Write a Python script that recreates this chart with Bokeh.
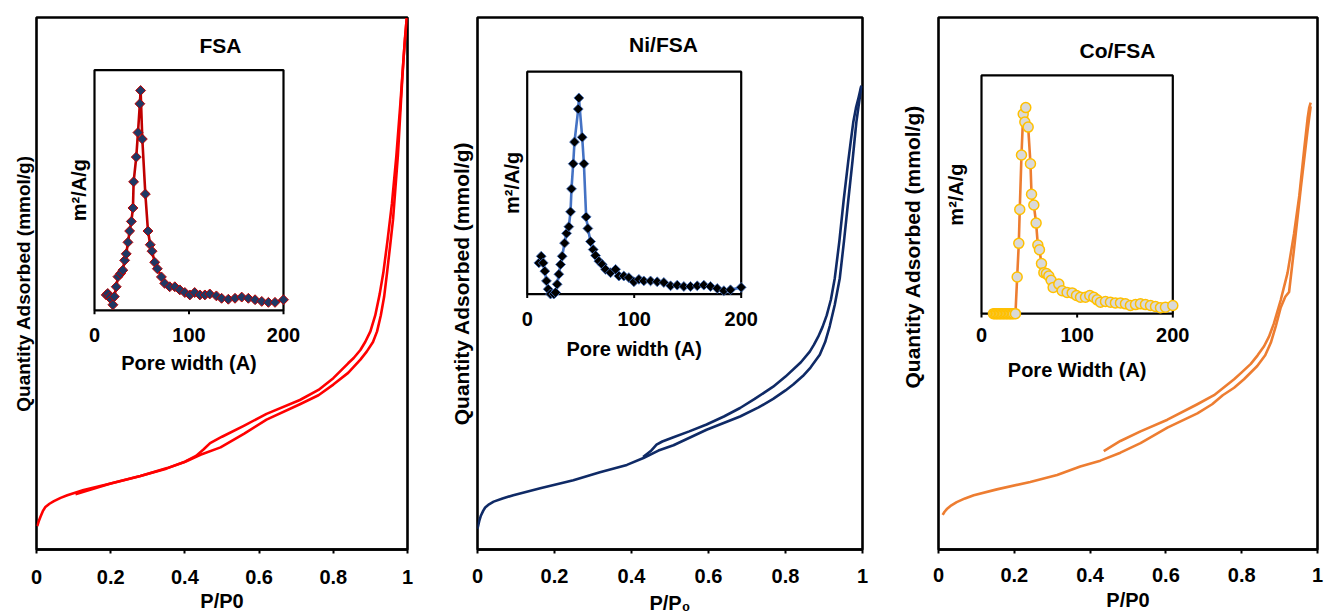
from math import pi

from bokeh.core.properties import value
from bokeh.embed import file_html
from bokeh.layouts import row
from bokeh.models import FixedTicker, Label, Range1d, Title
from bokeh.plotting import figure
from bokeh.resources import INLINE

# ---------------------------------------------------------------- data ----
# Relative pressure axis
p_ticks = [0, 0.2, 0.4, 0.6, 0.8, 1]
p_tick_labels = ["0", "0.2", "0.4", "0.6", "0.8", "1"]
# Pore width axis of the size-distribution insets
w_ticks = [0, 100, 200]
w_tick_labels = ["0", "100", "200"]

# FSA isotherm (quantity adsorbed, relative units)
fsa_ads_p = [0.002, 0.006, 0.011, 0.017, 0.024, 0.035, 0.047, 0.065, 0.083, 0.127, 0.2, 0.28,
             0.352, 0.401, 0.442, 0.496, 0.56, 0.62, 0.71, 0.76, 0.8, 0.84, 0.873, 0.89, 0.907,
             0.918, 0.928, 0.937, 0.945, 0.953, 0.961, 0.974, 0.986, 0.993, 0.998]
fsa_ads_q = [0.044, 0.053, 0.062, 0.072, 0.08, 0.086, 0.091, 0.097, 0.102, 0.112, 0.124, 0.138,
             0.153, 0.165, 0.178, 0.192, 0.218, 0.244, 0.273, 0.29, 0.31, 0.332, 0.357, 0.372,
             0.39, 0.41, 0.44, 0.475, 0.521, 0.57, 0.62, 0.74, 0.886, 0.96, 0.999]
fsa_des_p = [0.998, 0.99, 0.981, 0.97, 0.958, 0.946, 0.935, 0.925, 0.913, 0.9, 0.886, 0.873,
             0.855, 0.84, 0.8, 0.76, 0.71, 0.62, 0.56, 0.5, 0.468, 0.45, 0.43, 0.4, 0.35, 0.28,
             0.2, 0.105]
fsa_des_q = [0.999, 0.93, 0.84, 0.74, 0.65, 0.58, 0.521, 0.48, 0.44, 0.41, 0.39, 0.375, 0.36,
             0.35, 0.322, 0.3, 0.281, 0.255, 0.233, 0.212, 0.2, 0.188, 0.176, 0.165, 0.152,
             0.138, 0.124, 0.104]
# FSA pore size distribution (m2/A/g, relative units)
fsa_psd_w = [12.4, 14, 16, 18, 19.5, 21, 23, 24.8, 27.6, 30, 31.9, 33.6, 35.4, 37.2, 39, 40.7,
             41.4, 44.2, 46, 48, 48.8, 50.6, 53.8, 56.6, 59, 60.9, 63.7, 66.5, 70.8, 74.3, 79.6,
             85, 90.3, 95.6, 100.9, 106, 111.5, 116.8, 122, 129, 134.5, 141.6, 148.7, 155.8,
             162.8, 169.9, 177, 184, 191, 200]
fsa_psd_a = [0.064, 0.07, 0.055, 0.045, 0.023, 0.057, 0.098, 0.14, 0.153, 0.167, 0.208, 0.235,
             0.283, 0.33, 0.37, 0.426, 0.535, 0.638, 0.74, 0.86, 0.915, 0.713, 0.484, 0.33,
             0.273, 0.246, 0.2, 0.173, 0.139, 0.112, 0.098, 0.098, 0.085, 0.074, 0.064, 0.074,
             0.064, 0.064, 0.068, 0.06, 0.05, 0.046, 0.05, 0.055, 0.05, 0.044, 0.037, 0.033,
             0.033, 0.044]

# Ni/FSA isotherm
ni_ads_p = [0.0, 0.005, 0.009, 0.015, 0.02, 0.03, 0.042, 0.065, 0.093, 0.163, 0.249, 0.318,
            0.388, 0.431, 0.47, 0.509, 0.595, 0.682, 0.73, 0.768, 0.8, 0.82, 0.845, 0.865,
            0.889, 0.903, 0.915, 0.928, 0.941, 0.952, 0.963, 0.974, 0.984, 0.992, 0.997]
ni_ads_q = [0.039, 0.055, 0.064, 0.073, 0.079, 0.085, 0.09, 0.096, 0.102, 0.115, 0.13, 0.145,
            0.159, 0.172, 0.186, 0.196, 0.225, 0.25, 0.267, 0.283, 0.299, 0.31, 0.326, 0.342,
            0.366, 0.39, 0.42, 0.46, 0.51, 0.58, 0.656, 0.73, 0.803, 0.845, 0.87]
ni_des_p = [0.997, 0.99, 0.983, 0.976, 0.97, 0.963, 0.951, 0.94, 0.928, 0.918, 0.907, 0.896,
            0.885, 0.874, 0.863, 0.84, 0.8, 0.768, 0.72, 0.682, 0.64, 0.595, 0.55, 0.509, 0.48,
            0.465, 0.45, 0.43]
ni_des_q = [0.872, 0.85, 0.83, 0.803, 0.77, 0.73, 0.656, 0.58, 0.51, 0.47, 0.44, 0.418, 0.4,
            0.385, 0.372, 0.352, 0.325, 0.306, 0.283, 0.266, 0.25, 0.235, 0.222, 0.211, 0.203,
            0.197, 0.185, 0.174]
# Ni/FSA pore size distribution
ni_psd_w = [10.9, 13.1, 15, 16.5, 18, 19.6, 21.8, 24.9, 26.5, 28, 29.6, 31.2, 32.7, 34.9, 36.8,
            38.9, 40.5, 41.4, 43, 44.2, 47.7, 48.3, 51.4, 53, 55.1, 56.7, 59.2, 61.7, 63.9, 67,
            70.1, 73.2, 77.9, 82.6, 85.7, 90.3, 95, 99.7, 104.4, 109, 115.3, 121.5, 127.7, 134,
            140.2, 146.4, 152.6, 158.9, 165.1, 171.3, 177.6, 183.8, 190, 200]
ni_psd_a = [0.14, 0.17, 0.14, 0.103, 0.059, 0.022, 0.0, 0.0, 0.007, 0.044, 0.089, 0.133, 0.17,
            0.229, 0.273, 0.303, 0.37, 0.473, 0.586, 0.684, 0.832, 0.882, 0.705, 0.586, 0.347,
            0.295, 0.236, 0.2, 0.173, 0.148, 0.133, 0.111, 0.096, 0.111, 0.081, 0.081, 0.074,
            0.055, 0.066, 0.059, 0.059, 0.055, 0.052, 0.037, 0.04, 0.034, 0.034, 0.037, 0.04,
            0.034, 0.025, 0.015, 0.019, 0.03]

# Co/FSA isotherm
co_ads_p = [0.011, 0.016, 0.022, 0.034, 0.048, 0.07, 0.093, 0.154, 0.242, 0.313, 0.374, 0.427,
            0.48, 0.533, 0.604, 0.683, 0.722, 0.75, 0.78, 0.806, 0.841, 0.862, 0.877, 0.89,
            0.903, 0.915, 0.925, 0.938, 0.956, 0.974, 0.982]
co_ads_q = [0.065, 0.071, 0.076, 0.083, 0.089, 0.096, 0.102, 0.113, 0.127, 0.14, 0.156, 0.167,
            0.182, 0.2, 0.229, 0.256, 0.273, 0.29, 0.304, 0.32, 0.345, 0.365, 0.389, 0.42,
            0.455, 0.475, 0.484, 0.564, 0.68, 0.789, 0.833]
co_des_p = [0.982, 0.978, 0.974, 0.965, 0.952, 0.938, 0.921, 0.903, 0.885, 0.872, 0.859, 0.842,
            0.824, 0.8, 0.78, 0.727, 0.683, 0.604, 0.533, 0.48, 0.436]
co_des_q = [0.84, 0.83, 0.811, 0.753, 0.665, 0.593, 0.52, 0.469, 0.425, 0.4, 0.382, 0.365,
            0.349, 0.333, 0.32, 0.29, 0.273, 0.244, 0.222, 0.204, 0.185]
# Co/FSA pore size distribution
co_psd_w = [12.5, 14, 15.5, 17, 18.5, 20, 21.5, 23, 24.5, 26, 27.5, 29, 30.5, 32, 33.5, 35.5,
            37.3, 39, 40, 41.8, 43.6, 45.3, 46.3, 48.8, 51.2, 52.3, 54.7, 57.1, 58.9, 60.6, 62.7,
            65.2, 67.9, 70.4, 72.8, 74.9, 80.8, 84.3, 89.5, 94.8, 99.3, 103.5, 108.7, 113.2,
            117.4, 120.9, 124.4, 129.6, 134.8, 140, 145.3, 150.5, 155.7, 161, 166.2, 171.4,
            176.7, 181.9, 187.1, 192.3, 200]
co_psd_a = [0, 0, 0, 0, 0, 0, 0, 0, 0, 0, 0, 0, 0, 0, 0, 0,
            0.154, 0.295, 0.437, 0.666, 0.838, 0.804, 0.865, 0.783, 0.629, 0.501, 0.456, 0.38,
            0.288, 0.268, 0.21, 0.172, 0.168, 0.158, 0.14, 0.11, 0.124, 0.096, 0.089, 0.087,
            0.076, 0.069, 0.069, 0.076, 0.069, 0.058, 0.048, 0.051, 0.048, 0.045, 0.045, 0.041,
            0.034, 0.038, 0.041, 0.038, 0.034, 0.03, 0.025, 0.027, 0.034]

# -------------------------------------------------------------- styling ----
FONT = "Liberation Sans"
H = 616


def panel(width, frame, inset, title, title_pos, xlabel, curves, psd, styles):
    """One isotherm panel with its pore-size-distribution inset.

    frame = (left, right, top, bottom) of the plot area in panel pixels,
    inset = (left, right, top, bottom) of the inset box in panel pixels.
    """
    L, R, T, B = frame
    p = figure(width=width, height=H, x_range=Range1d(0, 1), y_range=Range1d(0, 1),
               y_axis_location=None, output_backend="svg", toolbar_location=None,
               min_border_left=L, min_border_right=width - R,
               min_border_top=T, min_border_bottom=H - B)
    p.background_fill_color = "white"
    p.border_fill_color = "white"
    p.xgrid.visible = False
    p.ygrid.visible = False
    p.outline_line_color = "black"
    p.outline_line_width = 2.6
    p.outline_line_alpha = 1.0

    ax = p.xaxis[0]
    ax.ticker = FixedTicker(ticks=p_ticks)
    ax.major_label_overrides = dict(zip(p_ticks, p_tick_labels))
    ax.axis_line_width = 2.6
    ax.major_tick_line_width = 2
    ax.major_tick_out = 4
    ax.major_tick_in = 0
    ax.minor_tick_out = 0
    ax.minor_tick_in = 0
    ax.major_label_text_font = FONT
    ax.major_label_text_font_style = "bold"
    ax.major_label_text_font_size = "20px"
    ax.major_label_text_color = "black"
    ax.major_label_standoff = styles["tick_standoff"]
    ax.axis_label = xlabel
    ax.axis_label_text_font = FONT
    ax.axis_label_text_font_style = "bold"
    ax.axis_label_text_font_size = "20px"
    ax.axis_label_text_color = "black"
    ax.axis_label_standoff = styles["label_standoff"]

    # vertical caption on the left of the frame
    p.add_layout(Title(text="Quantity Adsorbed (mmol/g)", align=styles["ylabel_align"],
                       offset=styles["ylabel_offset"], standoff=styles["ylabel_standoff"],
                       text_font=FONT, text_font_style="bold",
                       text_font_size=styles["ylabel_size"], text_color="black"), "left")

    # isotherm branches
    color = styles["iso_color"]
    for px, qy in curves:
        p.line(px, qy, line_color=color, line_width=2.6, line_join="round")

    # inset placed through extra ranges mapped onto the inset box
    a, b, yt, yb = inset
    sx = 200.0 / (b - a)
    sy = 1.0 / (yb - yt)
    p.extra_x_ranges = {"w": Range1d(-(a - L) * sx, 200 + (R - b) * sx)}
    p.extra_y_ranges = {"s": Range1d(-(B - yb) * sy, 1 + (yt - T) * sy)}
    kw = dict(x_range_name="w", y_range_name="s")

    p.quad(left=[w_ticks[0]], right=[w_ticks[-1]], bottom=[0], top=[1],
           fill_color="white", line_color="black", line_width=2.2, **kw)
    tick_len = 4 * sy
    p.segment(x0=w_ticks, y0=[0] * len(w_ticks), x1=w_ticks, y1=[-tick_len] * len(w_ticks),
              line_color="black", line_width=2, **kw)
    p.text(x=w_ticks, y=[0] * len(w_ticks), text=w_tick_labels, text_font=value(FONT),
           text_font_style="bold", text_font_size="20px", text_color="black",
           text_align="center", text_baseline="middle", y_offset=styles["inset_tick_off"], **kw)
    p.text(x=[100], y=[0], text=[styles["inset_xlabel"]], text_font=value(FONT),
           text_font_style="bold", text_font_size="20px", text_color="black",
           text_align="center", text_baseline="middle", y_offset=styles["inset_label_off"], **kw)
    p.text(x=[0], y=[0.5], text=["m\u00b2/A/g"], text_font=value(FONT),
           text_font_style="bold", text_font_size="20px", text_color="black", angle=pi / 2,
           text_align="center", text_baseline="middle", x_offset=styles["inset_ylabel_off"],
           **kw)

    w, s = psd
    p.line(w, s, line_color=styles["psd_line"], line_width=2.6, line_join="round", **kw)
    p.scatter(w, s, marker=styles["marker"], size=styles["marker_size"],
              angle=styles["marker_angle"], fill_color=styles["marker_fill"],
              line_color=styles["marker_line"], line_width=styles["marker_lw"], **kw)

    # panel title
    tx, ty = title_pos
    p.add_layout(Label(x=(tx - L) / (R - L), y=(B - ty) / (B - T), text=title,
                       text_font=FONT, text_font_style="bold", text_font_size="21px",
                       text_color="black", text_align="center", text_baseline="middle"))
    return p


p1 = panel(
    440, (36, 407, 17, 553), (94, 283, 70, 312), "FSA", (220, 45), "P/P0",
    [(fsa_ads_p, fsa_ads_q), (fsa_des_p, fsa_des_q)], (fsa_psd_w, fsa_psd_a),
    dict(iso_color="#FF0000", psd_line="#C00000", marker="square", marker_size=7,
         marker_angle=pi / 4, marker_fill="#1F3864", marker_line="#C00000", marker_lw=1,
         tick_standoff=16, label_standoff=3, inset_tick_off=25, inset_label_off=53,
         inset_xlabel="Pore width (A)", inset_ylabel_off=-16, ylabel_size="19px",
         ylabel_align="center", ylabel_offset=0, ylabel_standoff=6))

p2 = panel(
    440, (37, 422, 11, 551), (86.7, 300.7, 66, 291.7), "Ni/FSA", (223, 38), "P/P\u2080",
    [(ni_ads_p, ni_ads_q), (ni_des_p, ni_des_q)], (ni_psd_w, ni_psd_a),
    dict(iso_color="#0F2A66", psd_line="#4472C4", marker="square", marker_size=7,
         marker_angle=pi / 4, marker_fill="#000000", marker_line="#4472C4", marker_lw=0.8,
         tick_standoff=15, label_standoff=6, inset_tick_off=25, inset_label_off=55,
         inset_xlabel="Pore width (A)", inset_ylabel_off=-15, ylabel_size="21px",
         ylabel_align="center", ylabel_offset=0, ylabel_standoff=10))

p3 = panel(
    444, (58, 437, 15, 557), (101, 292.3, 74, 316.7), "Co/FSA", (237, 49), "P/P0",
    [(co_ads_p, co_ads_q), (co_des_p, co_des_q)], (co_psd_w, co_psd_a),
    dict(iso_color="#ED7D31", psd_line="#ED7D31", marker="circle", marker_size=10,
         marker_angle=0, marker_fill="#D9D9D9", marker_line="#FFC000", marker_lw=1.5,
         tick_standoff=14, label_standoff=4, inset_tick_off=21, inset_label_off=56,
         inset_xlabel="Pore Width (A)", inset_ylabel_off=-26, ylabel_size="21px",
         ylabel_align="left", ylabel_offset=161, ylabel_standoff=30))

layout = row(p1, p2, p3)
open("out.html", "w").write(file_html(layout, INLINE))
